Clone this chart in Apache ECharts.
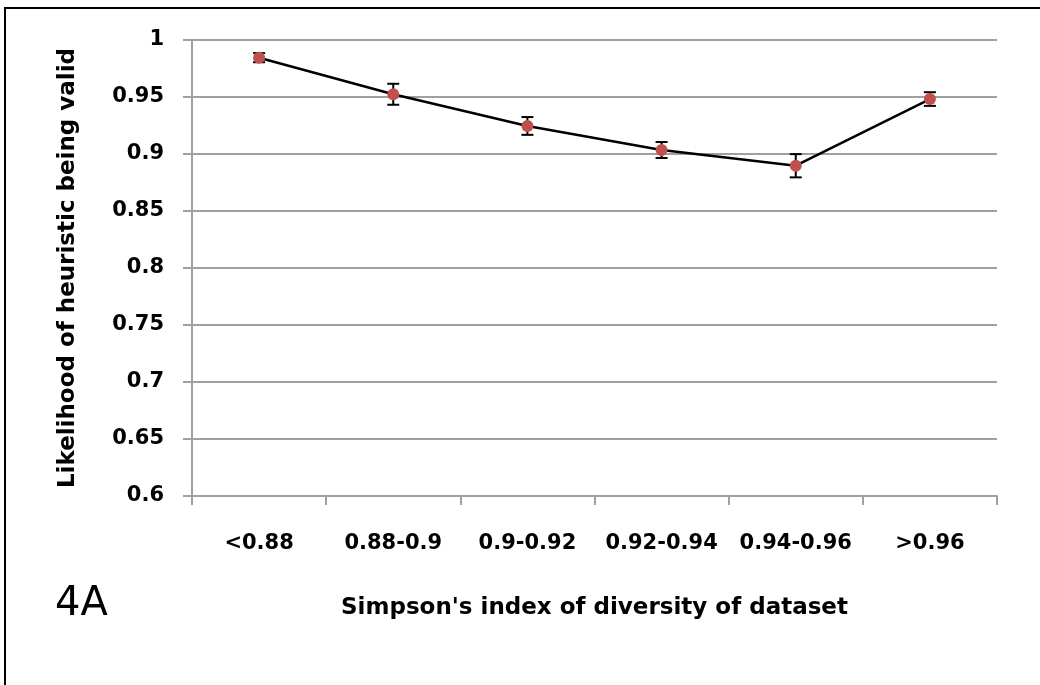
<!DOCTYPE html>
<html>
<head>
<meta charset="utf-8">
<script src="https://cdn.jsdelivr.net/npm/echarts@6/dist/echarts.min.js"></script>
<style>
  html, body { margin: 0; padding: 0; background: #fff; }
  #chart { width: 1040px; height: 685px; }
  .frame {
    position: absolute; left: 4px; top: 7px; right: 0; bottom: 0;
    border-left: 2.5px solid #000; border-top: 2.5px solid #000;
    pointer-events: none;
  }
</style>
</head>
<body>
<div id="chart"></div>
<div class="frame"></div>
<script>
const categories = ['<0.88', '0.88-0.9', '0.9-0.92', '0.92-0.94', '0.94-0.96', '>0.96'];
const likelihood = [0.9845, 0.9524, 0.9246, 0.9035, 0.8897, 0.9482];
const errors = [0.004, 0.0092, 0.0078, 0.007, 0.0102, 0.006];

const font = 'DejaVu Sans';
const gray = '#a0a0a0';

const errorData = likelihood.map((v, i) => [i, v - errors[i], v + errors[i]]);

const chart = echarts.init(document.getElementById('chart'));

chart.setOption({
  backgroundColor: '#fff',
  animation: false,
  grid: { left: 192, right: 43, top: 40, bottom: 189 },
  graphic: [
    {
      type: 'text',
      left: 55,
      top: 585,
      style: { text: '4A', font: '40px "DejaVu Sans"', fill: '#000' },
    },
  ],
  xAxis: {
    type: 'category',
    data: categories,
    boundaryGap: true,
    name: "Simpson's index of diversity of dataset",
    nameLocation: 'middle',
    nameGap: 101,
    nameTextStyle: { fontFamily: font, fontWeight: 'bold', fontSize: 23, color: '#000' },
    axisLine: { lineStyle: { color: gray, width: 2 } },
    axisTick: { show: true, length: 9, lineStyle: { color: gray, width: 2 } },
    axisLabel: { margin: 37, fontFamily: font, fontWeight: 'bold', fontSize: 21, color: '#000', interval: 0 },
  },
  yAxis: {
    type: 'value',
    min: 0.6,
    max: 1,
    interval: 0.05,
    name: 'Likelihood of heuristic being valid',
    nameLocation: 'middle',
    nameGap: 112,
    nameRotate: 90,
    nameTextStyle: { fontFamily: font, fontWeight: 'bold', fontSize: 23, color: '#000' },
    axisLine: { show: true, lineStyle: { color: gray, width: 2 } },
    axisTick: { show: true, length: 9, lineStyle: { color: gray, width: 2 } },
    axisLabel: { margin: 28, fontFamily: font, fontWeight: 'bold', fontSize: 21, color: '#000' },
    splitLine: { show: true, lineStyle: { color: gray, width: 2 } },
  },
  series: [
    {
      type: 'custom',
      z: 1,
      data: errorData,
      renderItem: function (params, api) {
        const x = api.value(0);
        const lo = api.coord([x, api.value(1)]);
        const hi = api.coord([x, api.value(2)]);
        const half = 6;
        const style = { stroke: '#000', lineWidth: 2 };
        return {
          type: 'group',
          children: [
            { type: 'line', shape: { x1: lo[0], y1: lo[1], x2: hi[0], y2: hi[1] }, style: style },
            { type: 'line', shape: { x1: lo[0] - half, y1: lo[1], x2: lo[0] + half, y2: lo[1] }, style: style },
            { type: 'line', shape: { x1: hi[0] - half, y1: hi[1], x2: hi[0] + half, y2: hi[1] }, style: style },
          ],
        };
      },
    },
    {
      type: 'line',
      z: 2,
      data: likelihood,
      symbol: 'circle',
      symbolSize: 12,
      lineStyle: { color: '#000', width: 2.5 },
      itemStyle: { color: '#C0504D' },
    },
  ],
});
</script>
</body>
</html>
